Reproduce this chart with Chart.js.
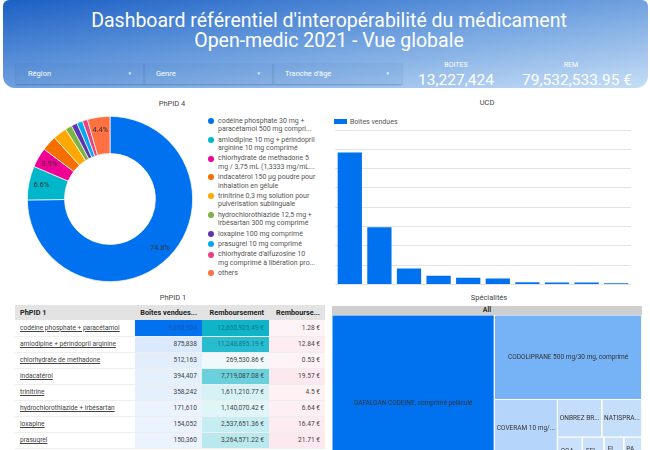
<!DOCTYPE html>
<html lang="fr"><head><meta charset="utf-8">
<script src="https://cdn.jsdelivr.net/npm/chart.js@4.4.1/dist/chart.umd.min.js"></script>
<style>
*{box-sizing:border-box}
html,body{margin:0;padding:0}
body{width:650px;height:450px;overflow:hidden;background:#fff;font-family:Roboto,"Noto Sans",sans-serif;position:relative;color:#444}
.a{position:absolute}
#hdr{left:3px;top:0;width:645px;height:88px;border-radius:6px 6px 12px 12px;background:linear-gradient(to bottom right,#1c60c5 0%,#72a3e0 52%,#c6def6 100%)}
.t1{left:0;width:658px;text-align:center;color:#fff;font-size:19.5px;line-height:22px;white-space:nowrap}
.flt{top:63px;height:21px;background:rgba(30,80,170,0.07);box-shadow:0 1px 1.5px rgba(20,60,130,0.35);color:#fff;font-size:7.5px;line-height:21px;padding-left:12px;white-space:nowrap}
.flt .arr{position:absolute;right:12px;top:0;font-size:4.5px;opacity:0.85}
.kl{color:#fff;font-size:7px;line-height:7px;text-align:center;width:120px}
.kv{color:#fff;font-size:15.5px;line-height:15.5px;text-align:center;width:170px;font-weight:400}
.pt{font-size:7.5px;line-height:9px;color:#444;text-align:center;width:160px}
#leg{left:207px;top:116.8px;width:112px;font-size:7px;line-height:8.4px;color:#555}
#leg .it{position:relative;padding-left:11px;margin-bottom:2px}
#leg .dot{position:absolute;left:1px;top:1.2px;width:6px;height:6px;border-radius:50%}
#barleg{left:334px;top:119px;width:13px;height:5px;background:#0072f0}
#barlegt{left:350px;top:117.5px;font-size:7px;line-height:8px;color:#555}
#tbl{left:15px;top:305px;width:310px;border-collapse:collapse;table-layout:fixed;font-size:6.6px;color:#444}
#tbl th{height:15px;background:#e3e3e3;font-weight:700;font-size:7.3px;color:#222;padding:0 5px;text-align:right;white-space:nowrap;overflow:hidden}
#tbl th:first-child{text-align:left}
#tbl tr.r{height:16px}
#tbl td{padding:0 5px;border-bottom:1px solid #eee;text-align:right;white-space:nowrap;overflow:hidden}
#tbl td:first-child{text-align:left;text-decoration:underline;color:#444}
#allbar{left:332px;top:306px;width:310px;height:9px;background:#cfcfcf;font-size:7px;line-height:9px;font-weight:700;text-align:center;color:#333}
</style></head>
<body>
<div id="hdr" class="a"></div>
<div class="a t1" style="top:9.5px">Dashboard référentiel d'interopérabilité du médicament</div>
<div class="a t1" style="top:30px">Open-medic 2021 - Vue globale</div>
<div id="filters"></div>
<div class="a kl" style="left:396px;top:62.4px">BOITES</div>
<div class="a kv" id="kv1" style="left:371px;top:73px"></div>
<div class="a kl" style="left:511px;top:62.4px">REM</div>
<div class="a kv" id="kv2" style="left:492px;top:73px"></div>

<div class="a pt" style="left:92px;top:99px">PhPID 4</div>
<div class="a" style="left:27px;top:116px;width:166px;height:166px"><canvas id="donut" width="166" height="166"></canvas></div>
<div id="leg" class="a"></div>

<div class="a pt" style="left:407px;top:98px">UCD</div>
<div id="barleg" class="a"></div>
<div id="barlegt" class="a">Boîtes vendues</div>
<div class="a" style="left:335px;top:129px;width:296px;height:157px"><canvas id="bars" width="296" height="157"></canvas></div>

<div class="a pt" style="left:93px;top:292.5px">PhPID 1</div>
<table id="tbl" class="a"><colgroup><col style="width:120px"><col style="width:67px"><col style="width:67px"><col style="width:56px"></colgroup><thead><tr id="thr"></tr></thead><tbody id="tbody"></tbody></table>

<div class="a pt" style="left:409px;top:293px">Spécialités</div>
<div id="allbar" class="a">All</div>
<div class="a" style="left:332px;top:315px;width:310px;height:177px"><canvas id="tree" width="310" height="177"></canvas></div>

<script>
// ---------------- DATA ----------------
const kpiBoites = 13227424;
const kpiRem = 79532533.95;
const filterLabels = ["Région", "Genre", "Tranche d'âge"];

const phpid4Labels = [
  ["codéine phosphate 30 mg +", "paracétamol 500 mg compri..."],
  ["amlodipine 10 mg + périndopril", "arginine 10 mg comprimé"],
  ["chlorhydrate de methadone 5", "mg / 3,75 mL (1,3333 mg/mL..."],
  ["indacatérol 150 µg poudre pour", "inhalation en gélule"],
  ["trinitrine 0,3 mg solution pour", "pulvérisation sublinguale"],
  ["hydrochlorothiazide 12,5 mg +", "irbésartan 300 mg comprimé"],
  ["loxapine 100 mg comprimé"],
  ["prasugrel 10 mg comprimé"],
  ["chlorhydrate d'alfuzosine 10", "mg comprimé à libération pro..."],
  ["others"]
];
const phpid4Values = [9895904, 875838, 512163, 394407, 358242, 171610, 154052, 150360, 133000, 581848];

const ucdLabels = ["DAFALGAN CODEINE", "CODOLIPRANE 500 mg/30 mg", "COVERAM 10 mg/10 mg", "ONBREZ BREEZHALER 150 µg",
  "NATISPRAY 0,30 mg", "MÉTHADONE 5 mg/3,75 mL", "COAPROVEL 300 mg/12,5 mg", "LOXAPAC 100 mg", "EFIENT 10 mg", "XATRAL LP 10 mg"];
const ucdValues = [6840000, 2970000, 830000, 450000, 345000, 315000, 120000, 100000, 100000, 70000];

const tableHeaders = ["PhPID 1", "Boîtes vendues...", "Remboursement", "Rembourse..."];
const tablePhpid = ["codéine phosphate + paracétamol", "amlodipine + périndopril arginine", "chlorhydrate de methadone",
  "indacatérol", "trinitrine", "hydrochlorothiazide + irbésartan", "loxapine", "prasugrel"];
const tableBoites = [9895904, 875838, 512163, 394407, 358242, 171610, 154052, 150360];
const tableRemb = [12650925.49, 11248895.19, 269530.86, 7719087.08, 1611210.77, 1140070.42, 2537651.36, 3264571.22];
const tableRembMoy = [1.28, 12.84, 0.53, 19.57, 4.5, 6.64, 16.47, 21.71];

const specNames = ["DAFALGAN CODEINE, comprimé pelliculé", "CODOLIPRANE 500 mg/30 mg, comprimé", "COVERAM 10 mg/10 mg, comprimé",
  "MÉTHADONE AP-HP 5 mg/3,75 mL", "ONBREZ BREEZHALER 150 µg", "NATISPRAY 0,30 mg", "COAPROVEL 300 mg/12,5 mg",
  "LOXAPAC 100 mg, comprimé", "EFIENT 10 mg, comprimé", "XATRAL LP 10 mg", "FLUDEX LP 1,5 mg", "PARACETAMOL/CODEINE ARROW",
  "PARACETAMOL/CODEINE BIOGARAN", "IRBESARTAN/HCTZ MYLAN", "AMLODIPINE/PERINDOPRIL TEVA"];
const specValues = [6840000, 2970000, 875838, 512163, 394407, 358242, 171610, 154052, 150360, 133000, 120000, 110000, 100000, 90000, 80000];

// ---------------- STYLE / LAYOUT ----------------
const sliceColors = ['#0072f0','#00b6cb','#f10096','#f66d00','#ffa800','#7cb342','#5e35b1','#03a9f4','#ec407a','#ff7043'];
const TM_W = 310, TM_H = 177;
Chart.defaults.font.family = 'Roboto';
Chart.defaults.animation = false;

const fmtInt = v => v.toLocaleString('en-US');
const fmtEur2 = v => v.toLocaleString('en-US', {minimumFractionDigits: 2, maximumFractionDigits: 2}) + ' €';
const lerp = (a, b, t) => 'rgb(' + a.map((c, i) => Math.round(c + (b[i] - c) * t)).join(',') + ')';

// header
document.getElementById('kv1').textContent = fmtInt(kpiBoites);
document.getElementById('kv2').textContent = fmtEur2(kpiRem);
const fl = document.getElementById('filters');
const fLeft = [16, 144, 273], fW = [128, 129, 129];
filterLabels.forEach((t, i) => {
  const d = document.createElement('div');
  d.className = 'a flt'; d.style.left = fLeft[i] + 'px'; d.style.width = fW[i] + 'px';
  d.innerHTML = t + '<span class="arr">▼</span>';
  fl.appendChild(d);
});

// donut legend
const leg = document.getElementById('leg');
phpid4Labels.forEach((lines, i) => {
  const d = document.createElement('div'); d.className = 'it';
  d.innerHTML = '<span class="dot" style="background:' + sliceColors[i] + '"></span>' + lines.join('<br>');
  leg.appendChild(d);
});

// donut
const sliceLabelPlugin = {
  id: 'sliceLabels',
  afterDatasetsDraw(chart) {
    const ctx = chart.ctx, meta = chart.getDatasetMeta(0), data = chart.data.datasets[0].data;
    const total = data.reduce((a, b) => a + b, 0);
    ctx.save();
    ctx.font = '7.5px Roboto'; ctx.fillStyle = '#333'; ctx.textAlign = 'center'; ctx.textBaseline = 'middle';
    meta.data.forEach((arc, i) => {
      const pct = data[i] / total * 100;
      if (pct < 3.5) return;
      const p = arc.getProps(['x', 'y', 'startAngle', 'endAngle', 'innerRadius', 'outerRadius'], true);
      const a = (p.startAngle + p.endAngle) / 2;
      const r = p.innerRadius + (p.outerRadius - p.innerRadius) * 0.66;
      ctx.fillText(pct.toFixed(1) + '%', p.x + Math.cos(a) * r, p.y + Math.sin(a) * r);
    });
    ctx.restore();
  }
};
new Chart(document.getElementById('donut'), {
  type: 'doughnut',
  data: { labels: phpid4Labels.map(l => l.join(' ')), datasets: [{ data: phpid4Values, backgroundColor: sliceColors, borderColor: '#fff', borderWidth: 0.7 }] },
  options: { responsive: false, events: [], cutout: '55%', layout: { padding: 0 },
    plugins: { legend: { display: false }, tooltip: { enabled: false } } },
  plugins: [sliceLabelPlugin]
});

// bars
new Chart(document.getElementById('bars'), {
  type: 'bar',
  data: { labels: ucdLabels, datasets: [{ label: 'Boîtes vendues', data: ucdValues, backgroundColor: '#0072f0', barPercentage: 0.82, categoryPercentage: 1 }] },
  options: { responsive: false, events: [], layout: { padding: { top: 1, bottom: 1.5, left: 0, right: 0 } },
    scales: {
      x: { display: false },
      y: { min: 0, max: 8000000, ticks: { display: false, stepSize: 1000000 }, border: { display: false }, grid: { color: '#e3e3e3', drawTicks: false, lineWidth: 1 } }
    },
    plugins: { legend: { display: false }, tooltip: { enabled: false } } }
});

// table
const thr = document.getElementById('thr');
tableHeaders.forEach(h => { const th = document.createElement('th'); th.textContent = h; thr.appendChild(th); });
const tb = document.getElementById('tbody');
const maxB = Math.max(...tableBoites), maxR = Math.max(...tableRemb), maxM = Math.max(...tableRembMoy);
tablePhpid.forEach((name, i) => {
  const tr = document.createElement('tr'); tr.className = 'r';
  const tB = tableBoites[i] / maxB, tR = tableRemb[i] / maxR, tM = tableRembMoy[i] / maxM;
  const cells = [
    [name, '#fff', '#444'],
    [fmtInt(tableBoites[i]), lerp([239, 245, 254], [0, 114, 240], tB), tB > 0.6 ? '#1d55b0' : '#444'],
    [fmtEur2(tableRemb[i]), lerp([244, 251, 252], [16, 180, 200], tR), tR > 0.75 ? '#0b7a89' : '#444'],
    [tableRembMoy[i] + ' €', lerp([254, 244, 247], [252, 232, 239], tM), '#444']
  ];
  cells.forEach(c => { const td = document.createElement('td'); td.textContent = c[0]; td.style.background = c[1]; td.style.color = c[2]; tr.appendChild(td); });
  tb.appendChild(tr);
});

// treemap (squarified layout from values, drawn as filled shapes on linear scales)
function worst(row, side) {
  const s = row.reduce((a, b) => a + b, 0), mx = Math.max(...row), mn = Math.min(...row);
  return Math.max(side * side * mx / (s * s), s * s / (side * side * mn));
}
function squarify(values, x, y, w, h) {
  const total = values.reduce((a, b) => a + b, 0), k = w * h / total;
  const areas = values.map(v => v * k), rects = [];
  let i = 0;
  while (i < areas.length) {
    const side = Math.min(w, h);
    const row = [areas[i]]; let j = i + 1;
    while (j < areas.length && worst(row.concat(areas[j]), side) <= worst(row, side)) { row.push(areas[j]); j++; }
    const s = row.reduce((a, b) => a + b, 0);
    if (w >= h) {
      const cw = s / h; let cy = y;
      row.forEach(a => { const rh = a / cw; rects.push({ x0: x, y0: cy, x1: x + cw, y1: cy + rh }); cy += rh; });
      x += cw; w -= cw;
    } else {
      const rh = s / w; let cx = x;
      row.forEach(a => { const rw = a / rh; rects.push({ x0: cx, y0: y, x1: cx + rw, y1: y + rh }); cx += rw; });
      y += rh; h -= rh;
    }
    i = j;
  }
  return rects;
}
const rects = squarify(specValues, 0, 0, TM_W, TM_H);
const maxS = Math.max(...specValues);
const treeLabelPlugin = {
  id: 'treeLabels',
  afterDatasetsDraw(chart) {
    const ctx = chart.ctx, xs = chart.scales.x, ys = chart.scales.y;
    ctx.save();
    ctx.font = '6.5px Roboto'; ctx.fillStyle = '#333'; ctx.textAlign = 'center'; ctx.textBaseline = 'middle';
    chart.data.datasets.forEach(ds => {
      const r = ds.rect;
      const px0 = xs.getPixelForValue(r.x0), px1 = xs.getPixelForValue(r.x1);
      const py0 = ys.getPixelForValue(r.y0), py1 = ys.getPixelForValue(r.y1);
      const w = Math.abs(px1 - px0) - 4, h = Math.abs(py1 - py0);
      if (w < 11 || h < 9) return;
      let t = ds.label;
      if (ctx.measureText(t).width > w) {
        while (t.length > 1 && ctx.measureText(t + '...').width > w) t = t.slice(0, -1);
        t = t + '...';
      }
      ctx.fillText(t, (px0 + px1) / 2, (py0 + py1) / 2);
    });
    ctx.restore();
  }
};
new Chart(document.getElementById('tree'), {
  type: 'scatter',
  data: { datasets: rects.map((r, i) => ({
    label: specNames[i], rect: r,
    data: [{ x: r.x0, y: r.y0 }, { x: r.x1, y: r.y0 }, { x: r.x1, y: r.y1 }, { x: r.x0, y: r.y1 }, { x: r.x0, y: r.y0 }],
    showLine: true, fill: 'shape', tension: 0, pointRadius: 0,
    backgroundColor: lerp([208, 228, 251], [0, 114, 240], specValues[i] / maxS),
    borderColor: '#ffffff', borderWidth: 1
  })) },
  options: { responsive: false, events: [], layout: { padding: 0 },
    scales: { x: { type: 'linear', min: 0, max: TM_W, display: false }, y: { type: 'linear', min: 0, max: TM_H, reverse: true, display: false } },
    plugins: { legend: { display: false }, tooltip: { enabled: false } } },
  plugins: [treeLabelPlugin]
});
</script>
</body></html>
